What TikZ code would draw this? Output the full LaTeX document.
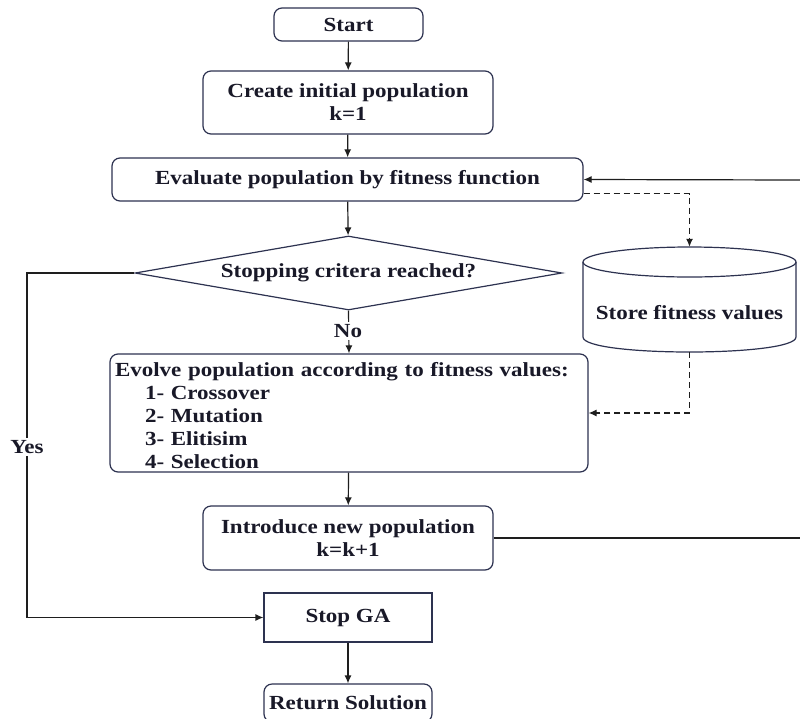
\documentclass[tikz,border=0pt]{standalone}
\usepackage{fontspec}
\setmainfont{Liberation Serif}[FakeStretch=1.15]
\usetikzlibrary{shapes.geometric,arrows.meta,calc}
\definecolor{bordc}{RGB}{45,50,80}
\definecolor{linec}{RGB}{30,30,30}
\definecolor{txtc}{RGB}{25,25,40}
\begin{document}
\begin{tikzpicture}[x=1pt,y=-1pt,
  font=\bfseries\fontsize{20}{23}\selectfont,
  rbox/.style={draw=bordc, line width=1.2pt, rounded corners=8pt, align=center, text=txtc, inner sep=0pt},
  sbox/.style={draw=bordc, line width=1.2pt, align=center, text=txtc, inner sep=0pt},
  lineconn/.style={draw=linec, line width=1.2pt},
  conn/.style={lineconn, -{Latex[length=8pt,width=7pt]}},
  dconn/.style={conn, dash pattern=on 6pt off 4pt},
  lbl/.style={text=txtc, inner sep=2pt}]
\useasboundingbox (0,0) rectangle (800,718);
\clip (0,0) rectangle (800,718);
\fill[white] (0,0) rectangle (800,718);

\node[rbox, minimum width=149pt, minimum height=33pt] (start) at (348.5,24.5) {Start};
\node[rbox, minimum width=290pt, minimum height=63pt] (create) at (348,102.5) {Create initial population\\k=1};
\node[rbox, minimum width=471pt, minimum height=43pt] (eval) at (347.5,179.5) {Evaluate population by fitness function};
\node[diamond, draw=bordc, line width=1.2pt, minimum width=427pt, minimum height=74pt, inner sep=0pt] (diam) at (348.5,273) {};
\node[lbl] (diamtxt) at (diam.center) {Stopping critera reached?};
\node[rbox, minimum width=478pt, minimum height=118pt, text width=468pt, align=left, text depth=0pt] (evolve) at (349,413) {};
\node[lbl, text width=468pt, align=left, inner sep=0pt] (evolvetxt) at (349,415.5)
  {Evolve population according to fitness values:\\
   \hspace*{30pt}1- Crossover\\
   \hspace*{30pt}2- Mutation\\
   \hspace*{30pt}3- Elitisim\\
   \hspace*{30pt}4- Selection};
\node[minimum width=213pt, minimum height=105pt, inner sep=0pt] (store) at (689.5,299.5) {};
\draw[draw=bordc, line width=1.2pt] (689.5,262) ellipse [x radius=106.5, y radius=15];
\draw[draw=bordc, line width=1.2pt] (583,262) -- (583,337) .. controls (583,357) and (796,357) .. (796,337) -- (796,262);
\node[lbl] (storetxt) at (689.5,313) {Store fitness values};
\node[rbox, minimum width=290pt, minimum height=64pt] (intro) at (348,538) {Introduce new population\\k=k+1};
\node[sbox, minimum width=168pt, minimum height=49pt] (stop) at (348,617.5) {Stop GA};
\node[rbox, minimum width=168pt, minimum height=38pt] (ret) at (348,703) {Return Solution};

\coordinate (rin) at (800,180);
\coordinate (rout) at (800,538);
\coordinate (yescorner) at (27,273);

\draw[conn] (start) -- (create);
\draw[conn] (create) -- (eval);
\draw[conn] (eval) -- (diam);
\draw[conn] (diam.south) -- (evolve.north);
\node[lbl, fill=white] (no) at (348,331) {No};
\draw[conn] (evolve) -- (intro);
\draw[conn] (stop) -- (ret);
\draw[conn] (diam.west) -- (yescorner) |- (stop.west);
\node[lbl, fill=white] (yes) at (27,447) {Yes};
\draw[conn] (rin) -- (eval.east);
\draw[lineconn] (intro.east) -- (rout);
\draw[dconn] ([yshift=8pt]eval.south east) -| (store.north);
\draw[dconn] (store.south) |- (evolve.east);
\end{tikzpicture}
\end{document}
